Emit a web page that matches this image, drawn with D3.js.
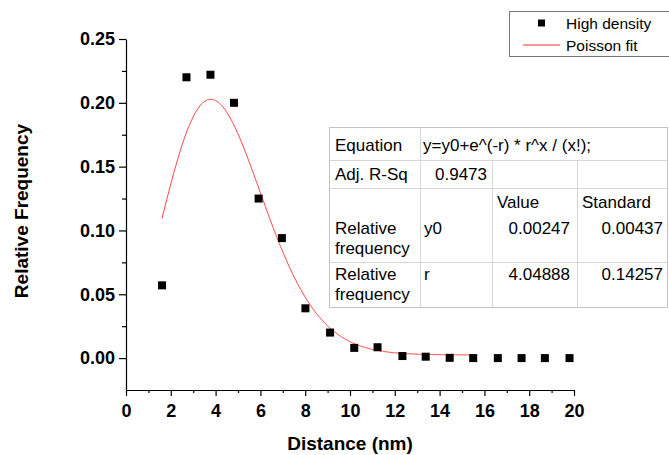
<!DOCTYPE html>
<html>
<head>
<meta charset="utf-8">
<script src="https://cdn.jsdelivr.net/npm/d3@7"></script>
<style>
  body { margin: 0; background: #fff; }
  svg { display: block; }
  text { font-family: Arial, "Liberation Sans", sans-serif; fill: #000; }
</style>
</head>
<body>
<svg id="chart" width="669" height="455"></svg>
<script>
// Measured nearest-neighbour distance histogram (high density sample)
const distance = [1.61, 2.70, 3.77, 4.82, 5.92, 6.96, 8.01, 9.11, 10.19, 11.23,
                  12.34, 13.38, 14.45, 15.50, 16.60, 17.66, 18.70, 19.80];
const frequency = [0.057, 0.220, 0.222, 0.200, 0.125, 0.094, 0.039, 0.020, 0.008, 0.0085,
                   0.0016, 0.0011, 0.0002, 0.0, 0.0, 0.0, 0.0, 0.0];

// Poisson fit parameters, fitted against the bin variable k
const fitY0 = 0.00247;
const fitR = 4.04888;
const binWidth = 1.07;          // nm per bin
const fitBins = [1.5, 14.5];    // range of k covered by the fit

const xTicks = [0, 2, 4, 6, 8, 10, 12, 14, 16, 18, 20];
const xMinor = [1, 3, 5, 7, 9, 11, 13, 15, 17, 19];
const yTicks = [0.00, 0.05, 0.10, 0.15, 0.20, 0.25];
const yMinor = [0.025, 0.075, 0.125, 0.175, 0.225];

const legendLabels = ["High density", "Poisson fit"];

const tableEquation = ["Equation", "y=y0+e^(-r) * r^x / (x!);"];
const tableAdj = ["Adj. R-Sq", "0.9473"];
const tableHeader = ["Value", "Standard"];
const tableParams = [
  { group: ["Relative", "frequency"], name: "y0", value: "0.00247", err: "0.00437" },
  { group: ["Relative", "frequency"], name: "r",  value: "4.04888", err: "0.14257" }
];

const svg = d3.select("#chart");

const x = d3.scaleLinear().domain([0, 20]).range([126, 574]);
const y = d3.scaleLinear().domain([-0.025, 0.25]).range([390, 39]);

// Lanczos approximation of the gamma function (for k! with non-integer k)
function gamma(z) {
  const g = 7;
  const c = [0.99999999999980993, 676.5203681218851, -1259.1392167224028,
    771.32342877765313, -176.61502916214059, 12.507343278686905,
    -0.13857109526572012, 9.9843695780195716e-6, 1.5056327351493116e-7];
  if (z < 0.5) return Math.PI / (Math.sin(Math.PI * z) * gamma(1 - z));
  z -= 1;
  let a = c[0];
  const t = z + g + 0.5;
  for (let i = 1; i < g + 2; i++) a += c[i] / (z + i);
  return Math.sqrt(2 * Math.PI) * Math.pow(t, z + 0.5) * Math.exp(-t) * a;
}
const poisson = k => fitY0 + Math.exp(-fitR) * Math.pow(fitR, k) / gamma(k + 1);

// Axes
const xAxis = svg.append("g").attr("transform", `translate(0,${y.range()[0]})`)
  .call(d3.axisBottom(x).tickValues(xTicks).tickSize(6).tickSizeOuter(0).tickPadding(8)
        .tickFormat(d3.format("d")));
svg.append("g").attr("transform", `translate(0,${y.range()[0]})`)
  .call(d3.axisBottom(x).tickValues(xMinor).tickSize(3).tickFormat(""))
  .select(".domain").remove();

const yAxis = svg.append("g").attr("transform", `translate(${x.range()[0]},0)`)
  .call(d3.axisLeft(y).tickValues(yTicks).tickSize(7).tickSizeOuter(0).tickPadding(4)
        .tickFormat(d3.format(".2f")));
svg.append("g").attr("transform", `translate(${x.range()[0]},0)`)
  .call(d3.axisLeft(y).tickValues(yMinor).tickSize(4).tickFormat(""))
  .select(".domain").remove();

svg.selectAll(".domain, .tick line").attr("stroke", "#000").attr("stroke-width", 1.2);
[xAxis, yAxis].forEach(a => a.selectAll("text")
  .attr("font-size", 18).attr("font-weight", "bold").attr("font-family", "Arial, 'Liberation Sans', sans-serif")
  .attr("fill", "#000"));

// Axis titles
svg.append("text").attr("x", 350).attr("y", 450).attr("text-anchor", "middle")
  .attr("font-size", 19).attr("font-weight", "bold").text("Distance (nm)");
svg.append("text").attr("transform", "translate(28,211) rotate(-90)").attr("text-anchor", "middle")
  .attr("font-size", 19).attr("font-weight", "bold").text("Relative Frequency");

// Fit curve
const kSamples = d3.range(fitBins[0], fitBins[1] + 1e-9, 0.05);
const line = d3.line().x(k => x(k * binWidth)).y(k => y(poisson(k)));
svg.append("path").datum(kSamples).attr("d", line)
  .attr("fill", "none").attr("stroke", "#ff3030").attr("stroke-width", 0.9);

// Data points
const ms = 8;
svg.append("g").selectAll("rect").data(distance).join("rect")
  .attr("x", (d, i) => x(d) - ms / 2).attr("y", (d, i) => y(frequency[i]) - ms / 2)
  .attr("width", ms).attr("height", ms).attr("fill", "#000");

// Legend
const lg = svg.append("g");
lg.append("rect").attr("x", 509.5).attr("y", 11.5).attr("width", 170).attr("height", 45)
  .attr("fill", "#fff").attr("stroke", "#777").attr("stroke-width", 1);
lg.append("rect").attr("x", 538).attr("y", 19.5).attr("width", 7).attr("height", 7).attr("fill", "#000");
lg.append("line").attr("x1", 523).attr("x2", 560).attr("y1", 45).attr("y2", 45)
  .attr("stroke", "#ff3030").attr("stroke-width", 1);
lg.selectAll("text").data(legendLabels).join("text")
  .attr("x", 566).attr("y", (d, i) => 29 + i * 22).attr("font-size", 15.5).text(d => d);

// Fit statistics table
const tb = svg.append("g");
const cols = [329, 420, 492, 577, 667];
const rows = [127, 160, 188, 262, 307];
tb.append("rect").attr("x", cols[0]).attr("y", rows[0]).attr("width", cols[4] - cols[0])
  .attr("height", rows[4] - rows[0]).attr("fill", "#fff").attr("stroke", "none");
const gridColor = "#d6d6d6";
rows.slice(1, 4).forEach(r => tb.append("line").attr("x1", cols[0]).attr("x2", cols[4])
  .attr("y1", r + 0.5).attr("y2", r + 0.5).attr("stroke", gridColor));
tb.append("line").attr("x1", cols[1] + 0.5).attr("x2", cols[1] + 0.5)
  .attr("y1", rows[0]).attr("y2", rows[4]).attr("stroke", gridColor);
[cols[2], cols[3]].forEach(c => tb.append("line").attr("x1", c + 0.5).attr("x2", c + 0.5)
  .attr("y1", rows[1]).attr("y2", rows[4]).attr("stroke", gridColor));
// outer frame
tb.append("rect").attr("x", cols[0] + 0.5).attr("y", rows[0] + 0.5)
  .attr("width", cols[4] - cols[0]).attr("height", rows[4] - rows[0])
  .attr("fill", "none").attr("stroke", "#c4c4c4");

const fs = 17;
const lineGap = 19.5;
const tText = (tx, ty, s, anchor) => tb.append("text").attr("x", tx).attr("y", ty)
  .attr("font-size", fs).attr("text-anchor", anchor || "start").text(s);
tText(335, 151, tableEquation[0]);
tText(423, 151, tableEquation[1]);
tText(335, 180, tableAdj[0]);
tText(487, 180, tableAdj[1], "end");
tText(497, 208, tableHeader[0]);
tText(582, 208, tableHeader[1]);
tableParams.forEach((p, i) => {
  const base = 234 + i * 46;
  tText(335, base, p.group[0]);
  tText(335, base + lineGap, p.group[1]);
  tText(424, base, p.name);
  tText(570, base, p.value, "end");
  tText(663, base, p.err, "end");
});
</script>
</body>
</html>
